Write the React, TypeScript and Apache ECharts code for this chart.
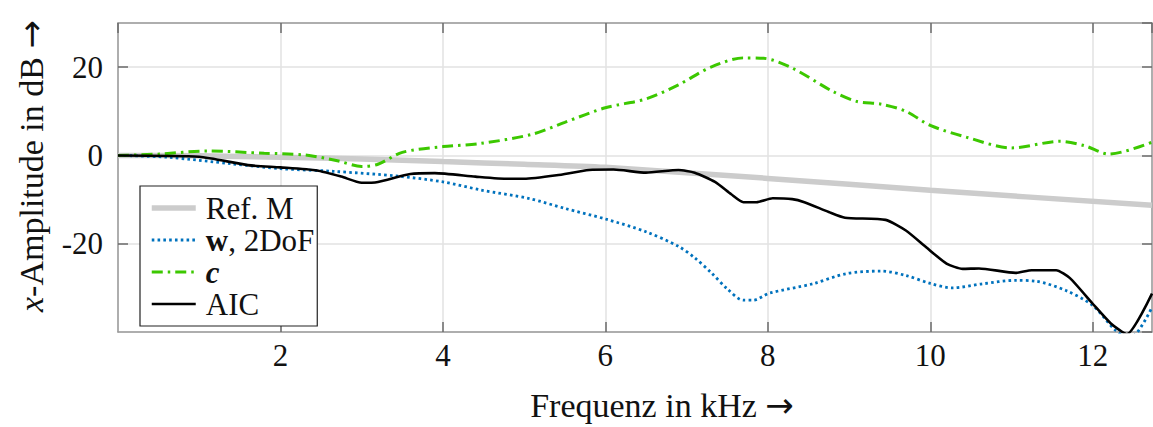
import React, { useEffect, useRef } from "react";
import * as echarts from "echarts";

const FONT = '"Liberation Serif", "DejaVu Serif", serif';
const ARROW_FONT = '"DejaVu Sans", sans-serif';

// Ref. M
const refF = [0, 1, 2, 3, 4, 5, 6, 8, 10, 12.73];
const refV = [0, -0.1, -0.4, -0.8, -1.4, -2.0, -2.7, -5.2, -7.9, -11.3];

// w, 2DoF
const wF = [0, 0.6, 1.4, 2.0, 2.65, 3.45, 4.0, 4.46, 5.07, 5.5, 6.0, 6.5, 6.9, 7.1, 7.3, 7.5, 7.7, 7.82, 8.02, 8.55, 8.96, 9.4, 9.7, 10.0, 10.27, 10.64, 11.05, 11.3, 11.67, 12.0, 12.28, 12.45, 12.73];
const wV = [0, -0.4, -1.9, -3.0, -3.6, -4.7, -6.0, -7.8, -9.8, -12.0, -14.4, -17.3, -20.6, -23.2, -26.5, -30.2, -32.8, -32.8, -31.2, -29.1, -26.8, -26.2, -27.2, -29.0, -30.0, -29.1, -28.3, -28.5, -30.6, -34.0, -39.6, -41.5, -34.4];

// c
const cF = [0, 0.5, 1.1, 1.8, 2.3, 2.7, 3.0, 3.2, 3.5, 4.0, 4.46, 5.1, 5.5, 6.0, 6.5, 6.9, 7.3, 7.7, 7.95, 8.3, 8.8, 9.1, 9.4, 9.7, 10.0, 10.45, 11.0, 11.6, 11.9, 12.2, 12.73];
const cV = [0, 0.3, 1.0, 0.5, 0.1, -1.2, -2.5, -2.0, 0.7, 2.0, 2.7, 4.8, 7.5, 10.8, 12.8, 16.0, 20.0, 22.1, 22.0, 19.8, 14.5, 12.2, 11.6, 10.0, 6.8, 4.1, 1.7, 3.2, 2.2, 0.3, 3.0];

// AIC
const aF = [0, 1.0, 1.6, 2.0, 2.45, 2.75, 3.0, 3.2, 3.6, 3.9, 4.4, 4.8, 5.0, 5.4, 5.8, 6.1, 6.5, 6.9, 7.1, 7.35, 7.55, 7.7, 7.86, 8.06, 8.3, 8.45, 8.75, 8.95, 9.45, 9.7, 9.95, 10.2, 10.4, 10.6, 11.05, 11.25, 11.55, 11.72, 12.0, 12.22, 12.42, 12.73];
const aV = [0, -0.3, -2.2, -2.7, -3.4, -4.8, -6.2, -6.0, -4.2, -4.0, -4.8, -5.3, -5.3, -4.5, -3.3, -3.2, -3.9, -3.3, -3.9, -6.0, -8.8, -10.6, -10.6, -9.7, -9.9, -10.6, -12.8, -14.1, -14.6, -17.0, -20.8, -24.5, -25.7, -25.6, -26.6, -26.0, -26.0, -27.8, -33.6, -38.0, -40.5, -31.3];

const seriesNames = ["Ref. M", "w, 2DoF", "c", "AIC"];
const X_MIN = 0;
const X_MAX = 12.73;
const Y_MIN = -40;
const Y_MAX = 30;

const zip = (f: number[], v: number[]) => f.map((x, i) => [x, v[i]]);

export default function App() {
  const ref = useRef<HTMLDivElement>(null);
  useEffect(() => {
    const chart = echarts.init(ref.current!, null, { renderer: "svg" });
    const frame = { show: true, onZero: false, lineStyle: { color: "#9a9a9a", width: 1.5 } };
    const tick = { show: true, inside: true, length: 10, lineStyle: { color: "#6a6a6a", width: 1.5 } };
    const split = { show: true, lineStyle: { color: "#e2e2e2", width: 1.5 } };
    const label = {
      fontFamily: FONT,
      fontSize: 31,
      color: "#111",
      showMinLabel: false,
      showMaxLabel: false,
    };
    const titleRich = {
      i: { fontFamily: FONT, fontSize: 34, fontStyle: "italic", fill: "#111" },
      a: { fontFamily: ARROW_FONT, fontSize: 34, fill: "#111" },
    };
    const styles = {
      ref: { color: "#cccccc", width: 5.5 },
      w: { color: "#0072BD", width: 2.8, type: [2.6, 3.2], cap: "butt" },
      c: { color: "#3cc800", width: 3, type: [11, 5, 2.5, 5], cap: "butt" },
      aic: { color: "#000000", width: 2.6 },
    };
    const hiddenDot = { color: "rgba(0,0,0,0)", borderWidth: 0, opacity: 0 };
    chart.setOption({
      animation: false,
      backgroundColor: "#fff",
      grid: { left: 118, right: 1, top: 23, bottom: 95 },
      xAxis: [
        {
          type: "value", min: X_MIN, max: X_MAX, interval: 2, position: "bottom",
          axisLine: frame, axisTick: tick, splitLine: split,
          axisLabel: { ...label, margin: 8 },
        },
        {
          type: "value", min: X_MIN, max: X_MAX, interval: 2, position: "top",
          axisLine: frame, axisTick: tick, splitLine: { show: false },
          axisLabel: { show: false },
        },
      ],
      yAxis: [
        {
          type: "value", min: Y_MIN, max: Y_MAX, interval: 20, position: "left",
          axisLine: frame, axisTick: tick, splitLine: split,
          axisLabel: { ...label, margin: 15 },
        },
        {
          type: "value", min: Y_MIN, max: Y_MAX, interval: 20, position: "right",
          axisLine: frame, axisTick: tick, splitLine: { show: false },
          axisLabel: { show: false },
        },
      ],
      legend: {
        data: [
          { name: seriesNames[0], lineStyle: styles.ref, itemStyle: hiddenDot },
          { name: seriesNames[1], lineStyle: styles.w, itemStyle: hiddenDot },
          { name: seriesNames[2], lineStyle: styles.c, itemStyle: hiddenDot },
          { name: seriesNames[3], lineStyle: styles.aic, itemStyle: hiddenDot },
        ],
        orient: "vertical",
        left: 140,
        top: 186,
        backgroundColor: "#fff",
        borderColor: "#222",
        borderWidth: 1.2,
        borderRadius: 0,
        padding: [6, 3, 6, 9],
        itemWidth: 44,
        itemHeight: 14,
        itemGap: 0,
        itemStyle: hiddenDot,
        formatter: (name: string) =>
          name === "w, 2DoF" ? "{b|w}, 2DoF" : name === "c" ? "{bi|c}" : name,
        textStyle: {
          fontFamily: FONT,
          fontSize: 31,
          lineHeight: 32,
          color: "#111",
          padding: [0, 0, 0, 5],
          rich: {
            b: { fontFamily: FONT, fontSize: 31, fontWeight: "bold", color: "#111", lineHeight: 32 },
            bi: { fontFamily: FONT, fontSize: 31, fontWeight: "bold", fontStyle: "italic", color: "#111", lineHeight: 32 },
          },
        },
      },
      graphic: [
        {
          type: "text",
          x: 31,
          y: 166,
          rotation: Math.PI / 2,
          style: {
            text: "{i|x}-Amplitude in dB {a|→}",
            fontFamily: FONT,
            fontSize: 34,
            fill: "#111",
            align: "center",
            verticalAlign: "middle",
            rich: titleRich,
          },
        },
        {
          type: "text",
          x: 662,
          y: 405,
          style: {
            text: "Frequenz in kHz {a|→}",
            fontFamily: FONT,
            fontSize: 34,
            fill: "#111",
            align: "center",
            verticalAlign: "middle",
            rich: titleRich,
          },
        },
      ],
      series: [
        {
          name: "Ref. M", type: "line", data: zip(refF, refV), symbol: "none", smooth: 0.3,
          lineStyle: styles.ref, itemStyle: { color: styles.ref.color }, z: 1,
        },
        {
          name: "w, 2DoF", type: "line", data: zip(wF, wV), symbol: "none", smooth: 0.3,
          lineStyle: styles.w, itemStyle: { color: styles.w.color }, z: 2,
        },
        {
          name: "c", type: "line", data: zip(cF, cV), symbol: "none", smooth: 0.3,
          lineStyle: styles.c, itemStyle: { color: styles.c.color }, z: 3,
        },
        {
          name: "AIC", type: "line", data: zip(aF, aV), symbol: "none", smooth: 0.2,
          lineStyle: styles.aic, itemStyle: { color: styles.aic.color }, z: 4,
        },
      ],
    });
    return () => chart.dispose();
  }, []);
  return (
    <div
      ref={ref}
      style={{ position: "fixed", left: 0, top: 0, width: 1153, height: 427 }}
    />
  );
}
